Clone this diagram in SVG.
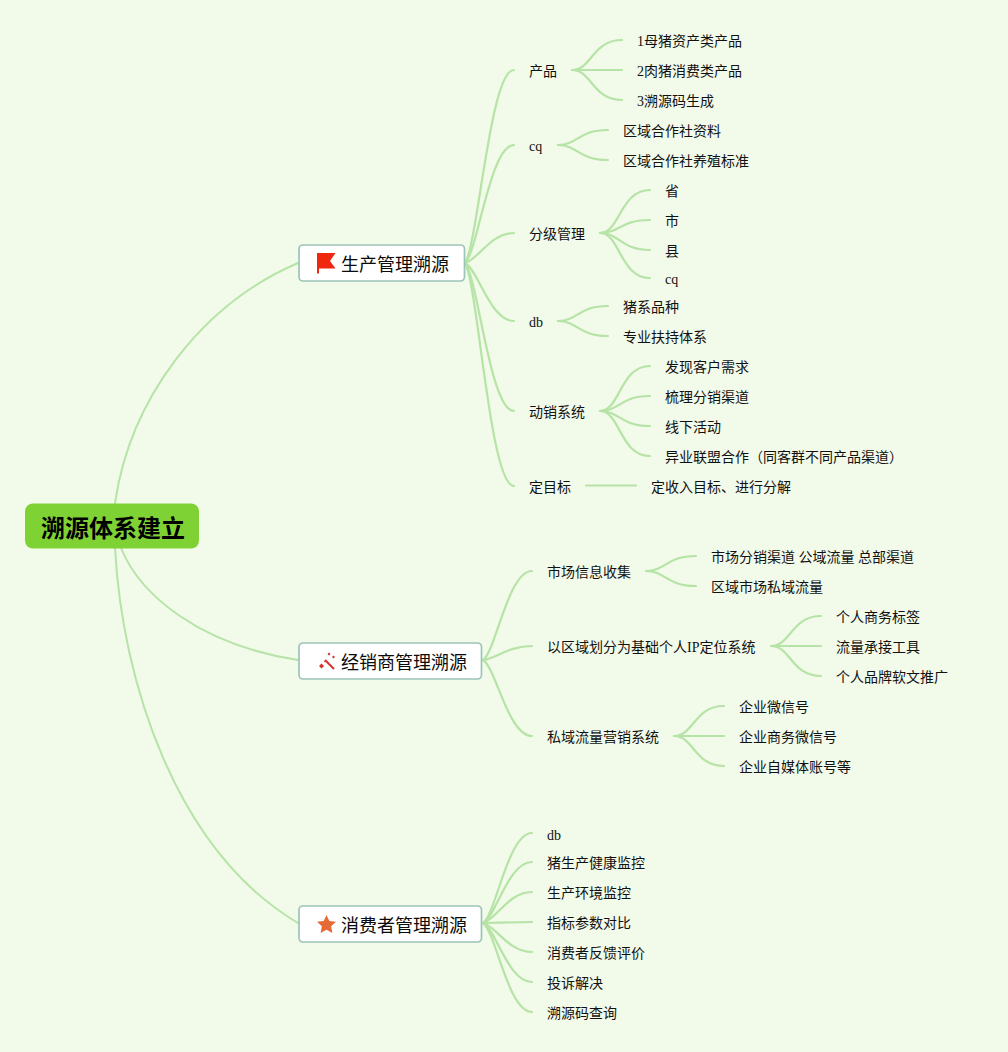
<svg xmlns="http://www.w3.org/2000/svg" width="1008" height="1052" viewBox="0 0 1008 1052">
<style>
text{font-family:"Liberation Serif","Noto Sans CJK SC",serif;fill:#111}
.t{font-size:14px}
.m{font-size:18px;fill:#0a0a0a}
.r{font-size:24px;font-weight:700;fill:#000}
.c path{fill:none;stroke:#b6e4a6;stroke-linecap:round;stroke-width:2.200}
.c .a{stroke-width:2}
.b{fill:#fff;stroke:#9cc4b8;stroke-width:1.700}
</style>
<rect width="1008" height="1052" fill="#f2faea"/>
<g id="connectors" class="c">
<path class="a" d="M115 503C130 400 200 305 298 263"/>
<path class="a" d="M121 548C140 595 200 645 298 660"/>
<path class="a" d="M115 548C122 680 175 850 298 923"/>
<path d="M465 263C478 243.700 490 70 514 70"/>
<path d="M465 263C478 251 490 145 514 145"/>
<path d="M465 263C478 260 490 233 514 233"/>
<path d="M465 263C478 269 490 321 514 321"/>
<path d="M465 263C478 278 490 411 514 411"/>
<path d="M465 263C478 285 490 486 514 486"/>
<path d="M572 70C592 70 592 40 622 40"/>
<path d="M572 70L622 70"/>
<path d="M572 70C592 70 592 100 622 100"/>
<path d="M558 145C578 145 578 130 608 130"/>
<path d="M558 145C578 145 578 160 608 160"/>
<path d="M600 233C620 233 620 190 650 190"/>
<path d="M600 233C620 233 620 220 650 220"/>
<path d="M600 233C620 233 620 250 650 250"/>
<path d="M600 233C620 233 620 278 650 278"/>
<path d="M558 321C578 321 578 306 608 306"/>
<path d="M558 321C578 321 578 336 608 336"/>
<path d="M600 411C620 411 620 366 650 366"/>
<path d="M600 411C620 411 620 396 650 396"/>
<path d="M600 411C620 411 620 426 650 426"/>
<path d="M600 411C620 411 620 456 650 456"/>
<path d="M586 485.500L636 485.500"/>
<path d="M483 660C496 651 508 571 532 571"/>
<path d="M483 660C496 658.600 508 646 532 646"/>
<path d="M483 660C496 667.600 508 736 532 736"/>
<path d="M646 571C666 571 666 556 696 556"/>
<path d="M646 571C666 571 666 586 696 586"/>
<path d="M771 646C791 646 791 616 821 616"/>
<path d="M771 646L821 646"/>
<path d="M771 646C791 646 791 676 821 676"/>
<path d="M674 736C694 736 694 706 724 706"/>
<path d="M674 736L724 736"/>
<path d="M674 736C694 736 694 766 724 766"/>
<path d="M483 923C496 914 508 833 532 833"/>
<path d="M483 923C496 917 508 862 532 862"/>
<path d="M483 923C496 920 508 892 532 892"/>
<path d="M483 923L532 922"/>
<path d="M483 923C496 926 508 952 532 952"/>
<path d="M483 923C496 929 508 982 532 982"/>
<path d="M483 923C496 932 508 1012 532 1012"/>
</g>
<g id="root"><rect x="25" y="503.500" width="174" height="45" rx="8" fill="#7fd234"/><text class="r" x="41" y="537">溯源体系建立</text></g>
<g id="n1"><rect class="b" x="299" y="245" width="165.500" height="36" rx="4"/>
<path d="M317 253H335.500L330 261L335.500 268.500H319V273.500H317Z" fill="#f0270f"/><text class="m" x="341" y="271">生产管理溯源</text></g>
<g id="n2"><rect class="b" x="299" y="643" width="182.500" height="36" rx="4"/>
<path d="M325 660L334 669" stroke="#d8322a" stroke-width="2" fill="none"/><path d="M319 666l2.500-2.500 2.500 2.500-2.500 2.500zM327.500 654l1.500-1.500 1.500 1.500-1.500 1.500zM324 661.500l1-1 1 1-1 1zM332 657l1.500-1.500 1.500 1.500-1.500 1.500z" fill="#d8322a"/><text class="m" x="341" y="669">经销商管理溯源</text></g>
<g id="n3"><rect class="b" x="299" y="906" width="182.500" height="36" rx="4"/>
<path d="M326.500 915l2.800 6 6.700.8-4.900 4.500 1.300 6.700-5.900-3.300-5.900 3.300 1.300-6.700-4.900-4.500 6.700-.8z" fill="#e56a36"/><text class="m" x="341" y="932">消费者管理溯源</text></g>
<g id="labels">
<text class="t" x="529" y="76">产品</text>
<text class="t" x="637" y="46">1母猪资产类产品</text>
<text class="t" x="637" y="76">2肉猪消费类产品</text>
<text class="t" x="637" y="106">3溯源码生成</text>
<text class="t" x="529" y="151">cq</text>
<text class="t" x="623" y="136">区域合作社资料</text>
<text class="t" x="623" y="166">区域合作社养殖标准</text>
<text class="t" x="529" y="239">分级管理</text>
<text class="t" x="665" y="196">省</text>
<text class="t" x="665" y="226">市</text>
<text class="t" x="665" y="256">县</text>
<text class="t" x="665" y="284">cq</text>
<text class="t" x="529" y="327">db</text>
<text class="t" x="623" y="312">猪系品种</text>
<text class="t" x="623" y="342">专业扶持体系</text>
<text class="t" x="529" y="417">动销系统</text>
<text class="t" x="665" y="372">发现客户需求</text>
<text class="t" x="665" y="402">梳理分销渠道</text>
<text class="t" x="665" y="432">线下活动</text>
<text class="t" x="665" y="462">异业联盟合作（同客群不同产品渠道）</text>
<text class="t" x="529" y="492">定目标</text>
<text class="t" x="651" y="492">定收入目标、进行分解</text>
<text class="t" x="547" y="577">市场信息收集</text>
<text class="t" x="711" y="562">市场分销渠道 公域流量 总部渠道</text>
<text class="t" x="711" y="592">区域市场私域流量</text>
<text class="t" x="547" y="652">以区域划分为基础个人IP定位系统</text>
<text class="t" x="836" y="622">个人商务标签</text>
<text class="t" x="836" y="652">流量承接工具</text>
<text class="t" x="836" y="682">个人品牌软文推广</text>
<text class="t" x="547" y="742">私域流量营销系统</text>
<text class="t" x="739" y="712">企业微信号</text>
<text class="t" x="739" y="742">企业商务微信号</text>
<text class="t" x="739" y="772">企业自媒体账号等</text>
<text class="t" x="547" y="840">db</text>
<text class="t" x="547" y="868">猪生产健康监控</text>
<text class="t" x="547" y="898">生产环境监控</text>
<text class="t" x="547" y="928">指标参数对比</text>
<text class="t" x="547" y="958">消费者反馈评价</text>
<text class="t" x="547" y="988">投诉解决</text>
<text class="t" x="547" y="1018">溯源码查询</text>
</g>
</svg>
